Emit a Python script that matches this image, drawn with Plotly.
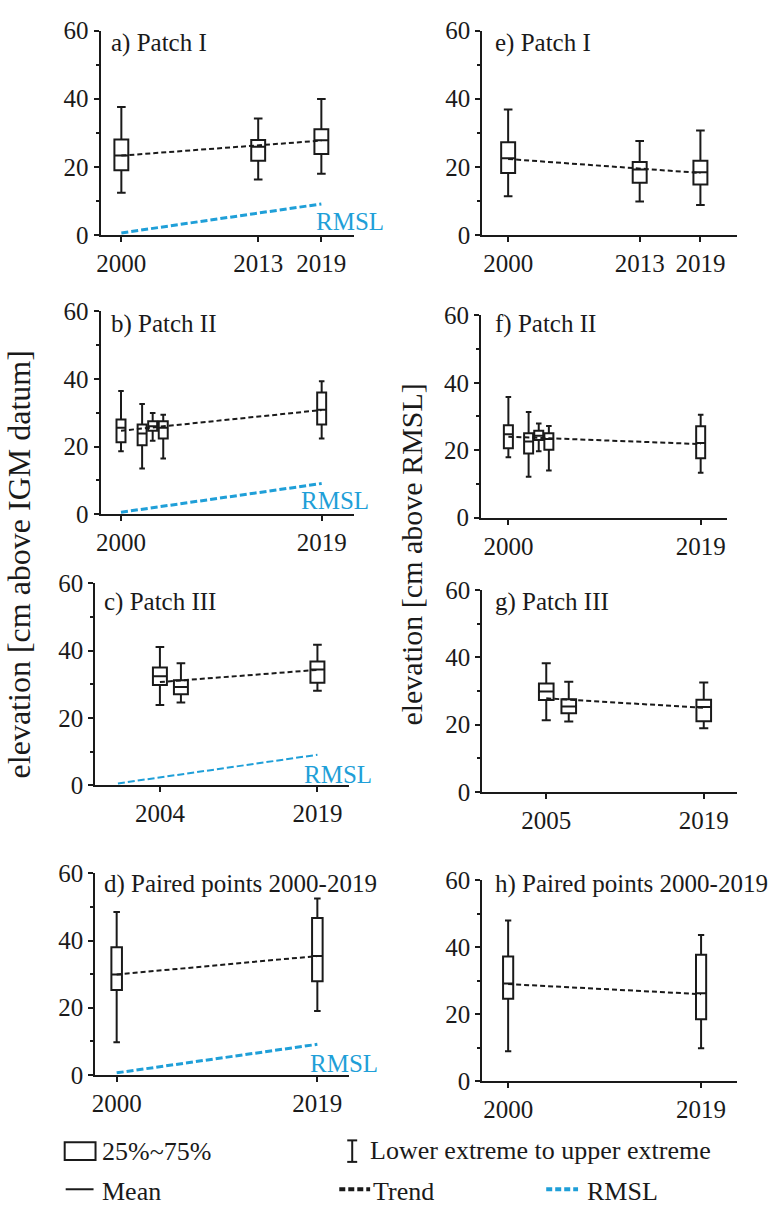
import plotly.graph_objects as go

# ---- box statistics per panel (cm) ----
# a) Patch I, IGM datum
a_years = [2000, 2013, 2019]
a_low = [12.4, 16.3, 18.0]
a_q1 = [19.0, 21.8, 23.8]
a_mean = [23.3, 25.9, 27.8]
a_q3 = [28.0, 27.9, 31.0]
a_high = [37.6, 34.2, 39.9]
a_trend = [23.3, 27.7]

# b) Patch II, IGM datum
b_years = [2000, 2002, 2003, 2004, 2019]
b_low = [18.6, 13.5, 21.7, 16.5, 22.4]
b_q1 = [21.3, 20.4, 24.7, 22.4, 26.5]
b_mean = [25.6, 23.9, 26.0, 25.6, 30.9]
b_q3 = [28.0, 26.5, 27.5, 27.5, 36.0]
b_high = [36.4, 32.6, 29.9, 29.4, 39.3]
b_trend = [24.7, 30.8]

# c) Patch III, IGM datum
c_years = [2004, 2006, 2019]
c_low = [23.9, 24.6, 28.1]
c_q1 = [29.8, 27.1, 30.5]
c_mean = [32.4, 29.2, 34.4]
c_q3 = [35.0, 31.2, 36.8]
c_high = [41.1, 36.3, 41.8]
c_trend = [30.7, 34.3]

# d) Paired points, IGM datum
d_years = [2000, 2019]
d_low = [9.7, 19.0]
d_q1 = [25.3, 27.9]
d_mean = [29.9, 35.4]
d_q3 = [38.0, 46.7]
d_high = [48.5, 52.5]
d_trend = [29.9, 35.4]

# e) Patch I, above RMSL
e_years = [2000, 2013, 2019]
e_low = [11.4, 9.8, 8.8]
e_q1 = [18.2, 15.3, 14.8]
e_mean = [22.5, 19.2, 18.4]
e_q3 = [27.2, 21.4, 21.8]
e_high = [36.8, 27.6, 30.7]
e_trend = [22.3, 18.2]

# f) Patch II, above RMSL
f_years = [2000, 2002, 2003, 2004, 2019]
f_low = [17.9, 12.1, 19.7, 14.0, 13.3]
f_q1 = [20.6, 19.0, 23.0, 20.1, 17.6]
f_mean = [24.7, 22.6, 24.3, 23.3, 22.1]
f_q3 = [27.4, 25.0, 25.8, 25.0, 27.1]
f_high = [35.8, 31.3, 27.9, 27.2, 30.5]
f_trend = [24.0, 21.8]

# g) Patch III, above RMSL
g_years = [2005, 2007, 2019]
g_low = [21.3, 20.9, 18.9]
g_q1 = [27.3, 23.4, 21.0]
g_mean = [29.8, 25.4, 25.2]
g_q3 = [32.2, 27.5, 27.4]
g_high = [38.2, 32.7, 32.5]
g_trend = [27.8, 25.0]

# h) Paired points, above RMSL
h_years = [2000, 2019]
h_low = [9.0, 9.9]
h_q1 = [24.6, 18.5]
h_mean = [29.2, 26.3]
h_q3 = [37.2, 37.7]
h_high = [47.9, 43.6]
h_trend = [29.0, 26.0]

# relative mean sea level rise
rmsl_years = [2000, 2019]
rmsl_cm = [0.6, 9.1]

# tick labels
ticks_a = [2000, 2013, 2019]
ticks_b = [2000, 2019]
ticks_c = [2004, 2019]
ticks_g = [2005, 2019]

W, H = 783, 1215
FONT = "'Liberation Serif', 'Times New Roman', 'DejaVu Serif', serif"
INK = "#1a1a1a"
BLUE = "#1f9fd8"

panels = [
    dict(t="a) Patch I", yrs=a_years, lo=a_low, q1=a_q1, m=a_mean, q3=a_q3, hi=a_high,
         tr=a_trend, tk=ticks_a, rm=True, bw=1.32, xp=(97, 352), yp=(18, 227),
         xr=(1998.02, 2022.12), tpos=(106, 31), rl=(2021.7, 4.0), rw=3),
    dict(t="b) Patch II", yrs=b_years, lo=b_low, q1=b_q1, m=b_mean, q3=b_q3, hi=b_high,
         tr=b_trend, tk=ticks_b, rm=True, bw=0.85, xp=(97, 352), yp=(305, 512.7),
         xr=(1998.06, 2022.08), tpos=(106, 318), rl=(2020.3, 4.0), rw=3),
    dict(t="c) Patch III", yrs=c_years, lo=c_low, q1=c_q1, m=c_mean, q3=c_q3, hi=c_high,
         tr=c_trend, tk=ticks_c, rm=True, bw=1.33, xp=(91.7, 346.7), yp=(583.3, 790),
         xr=(1997.84, 2022.0), tpos=(99, 602), rl=(2021.0, 3.2), rw=2),
    dict(t="d) Paired points 2000-2019", yrs=d_years, lo=d_low, q1=d_q1, m=d_mean, q3=d_q3,
         hi=d_high, tr=d_trend, tk=ticks_b, rm=True, bw=1.0, xp=(91.7, 346.7), yp=(880, 1086),
         xr=(1997.97, 2021.99), tpos=(99, 891), rl=(2021.5, 3.5), rw=3),
    dict(t="e) Patch I", yrs=e_years, lo=e_low, q1=e_q1, m=e_mean, q3=e_q3, hi=e_high,
         tr=e_trend, tk=ticks_a, rm=False, bw=1.38, xp=(480.7, 736.7), yp=(18, 227),
         xr=(1997.44, 2022.61), tpos=(492, 31)),
    dict(t="f) Patch II", yrs=f_years, lo=f_low, q1=f_q1, m=f_mean, q3=f_q3, hi=f_high,
         tr=f_trend, tk=ticks_b, rm=False, bw=0.89, xp=(479.5, 726.7), yp=(309.3, 516),
         xr=(1997.3, 2021.6), tpos=(492, 318)),
    dict(t="g) Patch III", yrs=g_years, lo=g_low, q1=g_q1, m=g_mean, q3=g_q3, hi=g_high,
         tr=g_trend, tk=ticks_g, rm=False, bw=1.3, xp=(480.7, 736.7), yp=(590, 796.7),
         xr=(1999.31, 2021.95), tpos=(492, 602)),
    dict(t="h) Paired points 2000-2019", yrs=h_years, lo=h_low, q1=h_q1, m=h_mean, q3=h_q3,
         hi=h_high, tr=h_trend, tk=ticks_b, rm=False, bw=1.0, xp=(480.7, 736.7),
         yp=(886.7, 1092.7), xr=(1997.45, 2022.53), tpos=(492, 891)),
]

fig = go.Figure()
annotations = []
layout_axes = {}

for i, p in enumerate(panels, start=1):
    xa = "x" if i == 1 else f"x{i}"
    ya = "y" if i == 1 else f"y{i}"
    xkey = "xaxis" if i == 1 else f"xaxis{i}"
    ykey = "yaxis" if i == 1 else f"yaxis{i}"

    fig.add_trace(go.Box(
        x=p["yrs"], q1=p["q1"], median=p["m"], q3=p["q3"],
        lowerfence=p["lo"], upperfence=p["hi"],
        width=p["bw"], whiskerwidth=0.62, boxpoints=False,
        line=dict(color=INK, width=2), fillcolor="rgba(255,255,255,0)",
        xaxis=xa, yaxis=ya, showlegend=False, hoverinfo="skip",
    ))

    trend_x = [p["yrs"][0], p["yrs"][-1]]
    fig.add_trace(go.Scatter(
        x=trend_x, y=p["tr"], mode="lines",
        line=dict(color=INK, width=2, dash="5px,3px"),
        xaxis=xa, yaxis=ya, showlegend=False, hoverinfo="skip",
    ))

    if p["rm"]:
        fig.add_trace(go.Scatter(
            x=rmsl_years, y=rmsl_cm, mode="lines",
            line=dict(color=BLUE, width=p["rw"], dash="7px,3px"),
            xaxis=xa, yaxis=ya, showlegend=False, hoverinfo="skip",
        ))
        annotations.append(dict(
            x=p["rl"][0], y=p["rl"][1], xref=xa, yref=ya, text="RMSL",
            showarrow=False, xanchor="center", yanchor="middle",
            font=dict(family=FONT, size=25, color=BLUE),
        ))

    x0, x1 = p["xp"]
    y0, y1 = p["yp"]
    layout_axes[xkey] = dict(
        domain=[x0 / W, x1 / W], range=list(p["xr"]), anchor=ya,
        tickmode="array", tickvals=p["tk"], ticktext=[str(v) for v in p["tk"]],
        ticks="outside", ticklen=5, tickwidth=2, tickcolor=INK,
        showline=True, linewidth=2, linecolor=INK,
        showgrid=False, zeroline=False,
        tickfont=dict(family=FONT, size=25, color=INK),
    )
    layout_axes[ykey] = dict(
        domain=[1 - y1 / H, 1 - y0 / H], range=[0, 60], anchor=xa,
        tickmode="array", tickvals=[0, 20, 40, 60],
        ticks="outside", ticklen=5, tickwidth=2, tickcolor=INK,
        minor=dict(tickvals=[10, 30, 50], ticks="outside", ticklen=3,
                   tickwidth=1.5, tickcolor=INK),
        showline=True, linewidth=2, linecolor=INK,
        showgrid=False, zeroline=False,
        tickfont=dict(family=FONT, size=25, color=INK),
    )

    tx, ty = p["tpos"]
    annotations.append(dict(
        x=tx / W, y=1 - ty / H, xref="paper", yref="paper", text=p["t"],
        showarrow=False, xanchor="left", yanchor="middle",
        font=dict(family=FONT, size=25, color=INK),
    ))

# vertical axis titles
annotations.append(dict(
    x=16 / W, y=1 - 564 / H, xref="paper", yref="paper",
    text="elevation [cm above IGM datum]", textangle=-90, showarrow=False,
    xanchor="center", yanchor="middle", font=dict(family=FONT, size=32, color=INK),
))
annotations.append(dict(
    x=410 / W, y=1 - 554 / H, xref="paper", yref="paper",
    text="elevation [cm above RMSL]", textangle=-90, showarrow=False,
    xanchor="center", yanchor="middle", font=dict(family=FONT, size=30, color=INK),
))

# key at the bottom
def px(x):
    return x / W

def py(y):
    return 1 - y / H

shapes = [
    dict(type="rect", xref="paper", yref="paper", x0=px(61), x1=px(92),
         y0=py(1173), y1=py(1155), line=dict(color=INK, width=2)),
    dict(type="line", xref="paper", yref="paper", x0=px(62), x1=px(90),
         y0=py(1203), y1=py(1203), line=dict(color=INK, width=2)),
    dict(type="line", xref="paper", yref="paper", x0=px(350), x1=px(350),
         y0=py(1153), y1=py(1175), line=dict(color=INK, width=2)),
    dict(type="line", xref="paper", yref="paper", x0=px(345), x1=px(355),
         y0=py(1153), y1=py(1153), line=dict(color=INK, width=2)),
    dict(type="line", xref="paper", yref="paper", x0=px(345), x1=px(355),
         y0=py(1175), y1=py(1175), line=dict(color=INK, width=2)),
    dict(type="line", xref="paper", yref="paper", x0=px(337), x1=px(368),
         y0=py(1203), y1=py(1203), line=dict(color=INK, width=4, dash="6px,3px")),
    dict(type="line", xref="paper", yref="paper", x0=px(545), x1=px(577),
         y0=py(1203), y1=py(1203), line=dict(color=BLUE, width=4, dash="6px,3px")),
]
key_labels = [
    ("25%~75%", 96, 1164),
    ("Mean", 96, 1205),
    ("Lower extreme to upper extreme", 366, 1163),
    ("Trend", 369, 1205),
    ("RMSL", 584, 1205),
]
for txt, x, y in key_labels:
    annotations.append(dict(
        x=px(x), y=py(y), xref="paper", yref="paper", text=txt, showarrow=False,
        xanchor="left", yanchor="middle", font=dict(family=FONT, size=26, color=INK),
    ))

fig.update_layout(
    width=W, height=H, margin=dict(l=0, r=0, t=0, b=0),
    paper_bgcolor="white", plot_bgcolor="white",
    font=dict(family=FONT, color=INK),
    showlegend=False, annotations=annotations, shapes=shapes,
    **layout_axes,
)

fig.write_html("out.html")
